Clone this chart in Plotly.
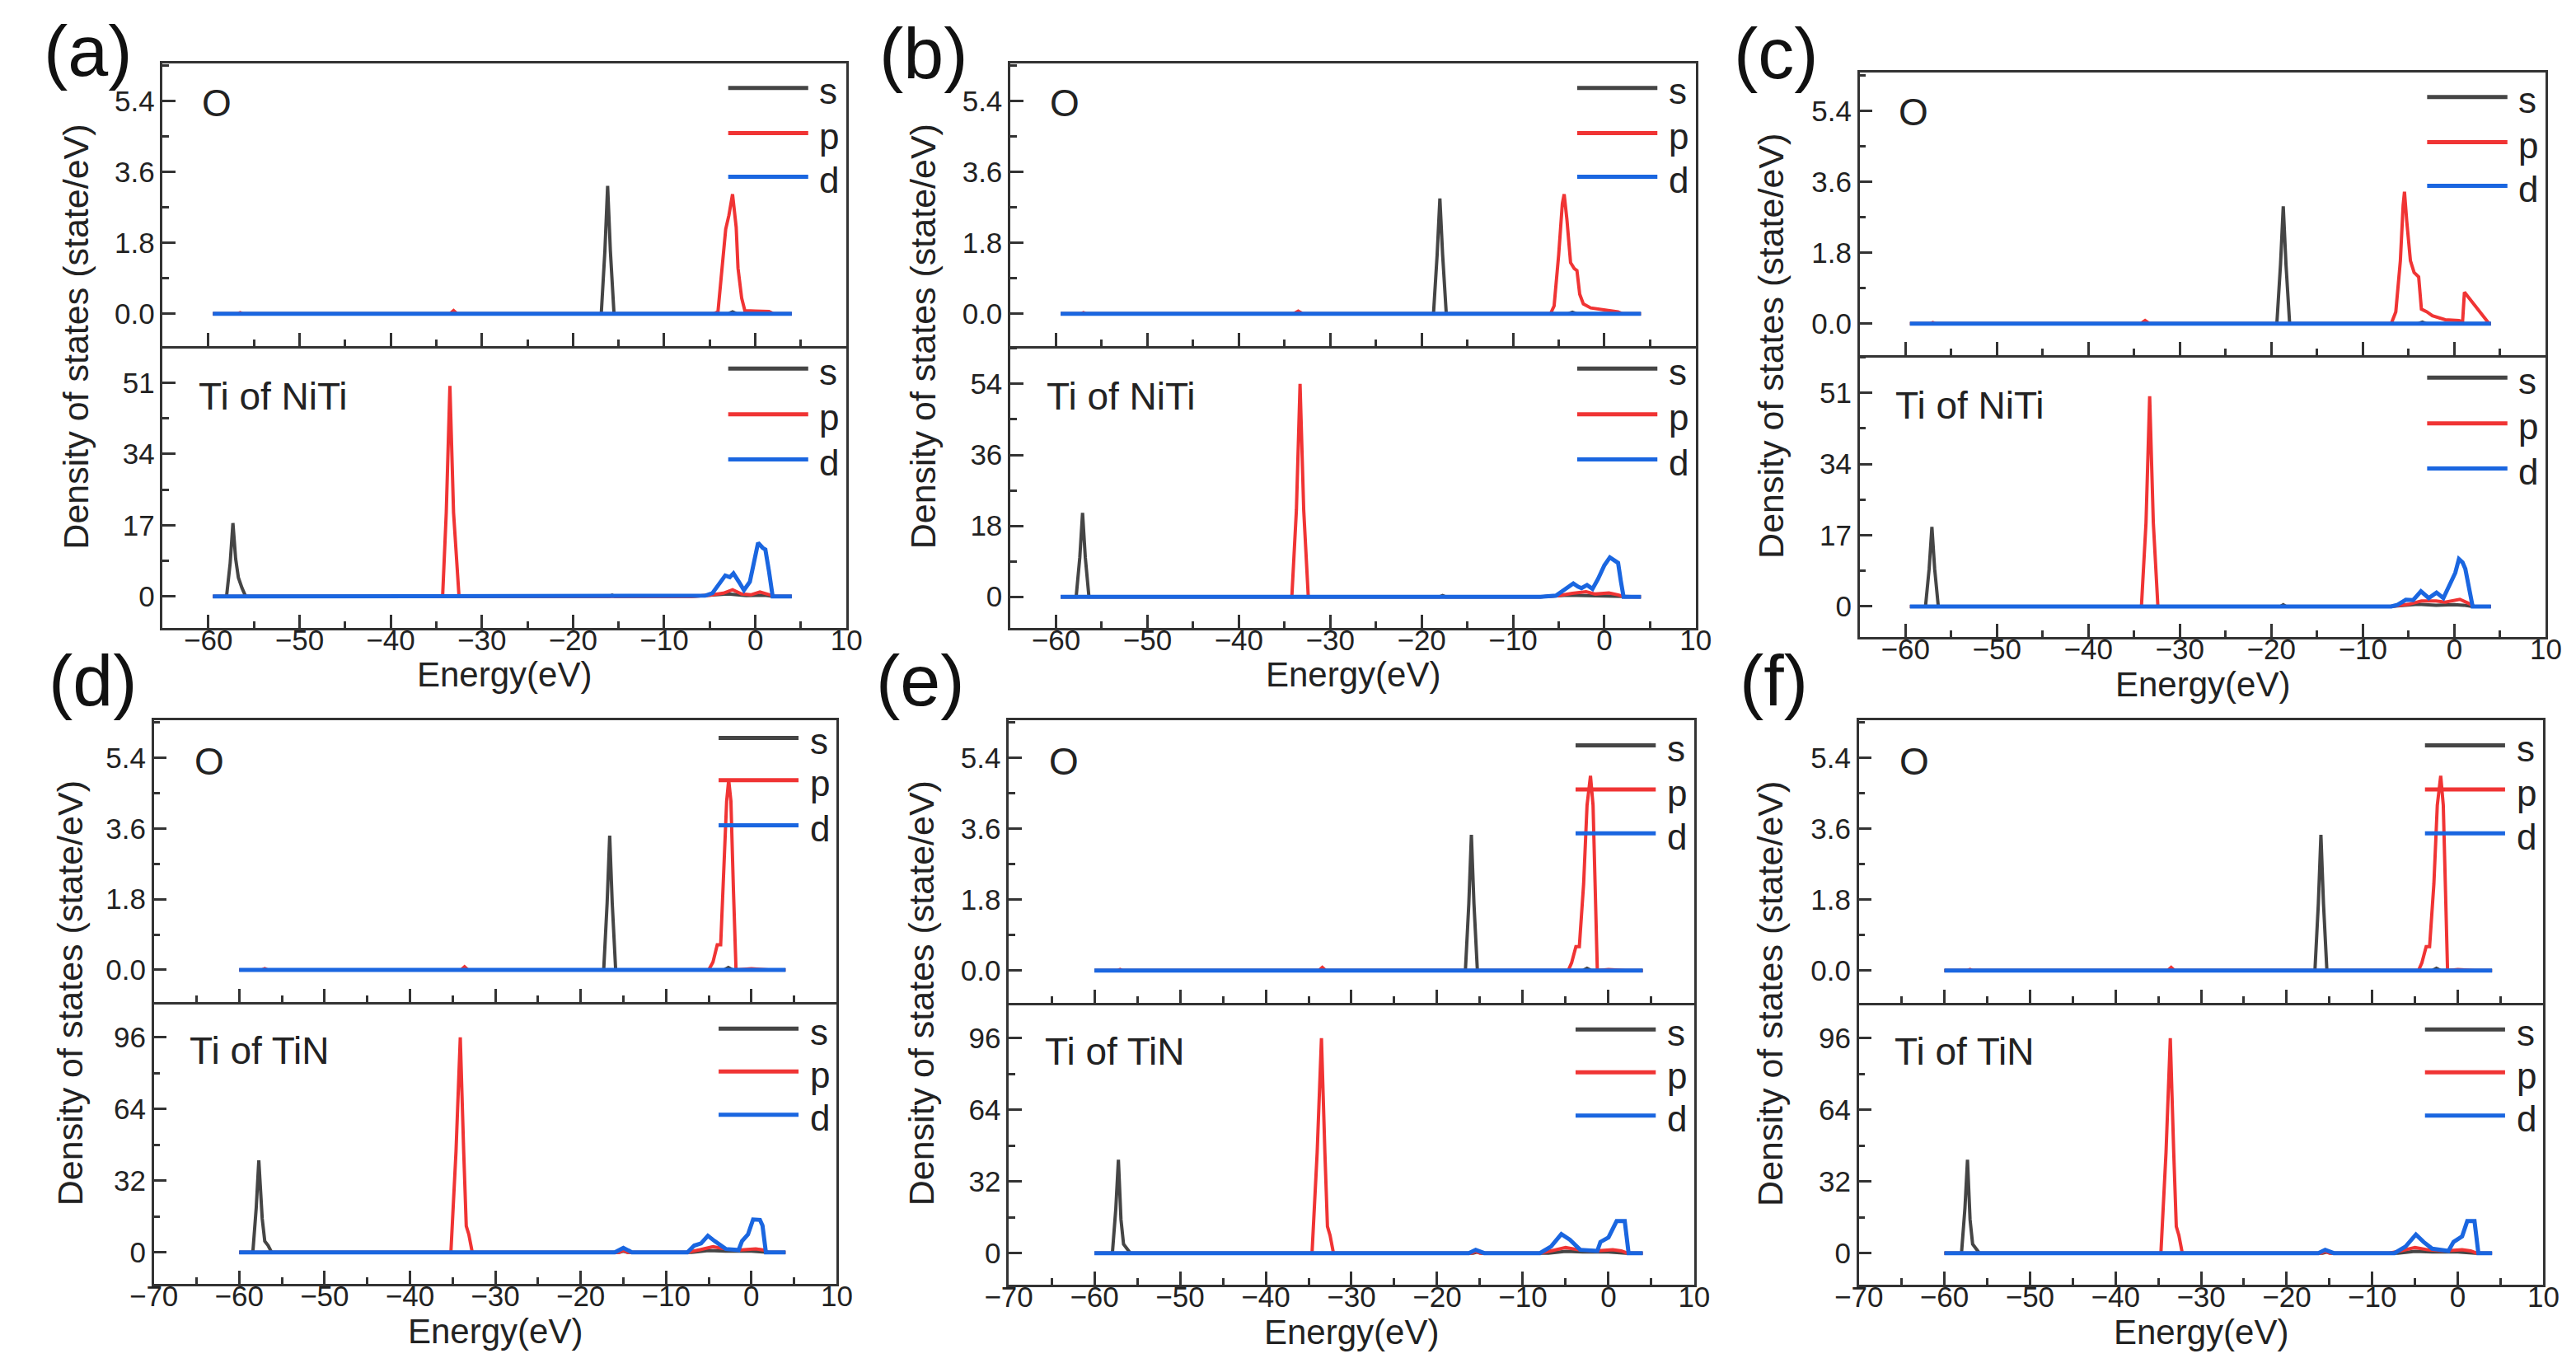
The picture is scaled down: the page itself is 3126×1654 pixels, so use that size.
import plotly.graph_objects as go

# ---- data: (energy eV, DOS) vertices of each curve ----
# (a) O / Ti of NiTi
a_O_s = [(-59.5, 0), (-33.5, 0), (-33, 0.02), (-32.5, 0), (-16.9, 0), (-16.5, 1.6), (-16.2, 3.25),
         (-15.9, 1.6), (-15.5, 0), (-3, 0), (-2.5, 0.05), (-2, 0), (4, 0)]
a_O_p = [(-59.5, 0), (-56.8, 0), (-56.5, 0.03), (-56.2, 0), (-33.5, 0), (-33.1, 0.08), (-32.7, 0),
         (-4.6, 0), (-4.1, 0.05), (-3.6, 1.4), (-3.25, 2.15), (-2.9, 2.5), (-2.5, 3.04), (-2.1, 2.2),
         (-1.9, 1.16), (-1.5, 0.4), (-1.15, 0.08), (0, 0.07), (1.5, 0.06), (2, 0), (4, 0)]
a_O_d = [(-59.5, 0), (4, 0)]
a_Ti_s = [(-59.5, 0), (-58.0, 0), (-57.6, 8), (-57.3, 17.5), (-57.0, 9), (-56.7, 4.5), (-56.3, 2),
          (-55.9, 0), (-16, 0), (-15.7, 0.3), (-15.4, 0), (-7, 0), (-5, 0.3), (-3, 0.6), (-1, 0.2),
          (1, 0.3), (2, 0), (4, 0)]
a_Ti_p = [(-59.5, 0), (-34.3, 0), (-33.9, 20), (-33.5, 50.2), (-33.1, 20), (-32.5, 0), (-7, 0),
          (-5, 0.3), (-3.5, 0.8), (-2.5, 1.6), (-1.5, 0.6), (-0.5, 0.4), (0.5, 1.1), (1.2, 0.6),
          (2.2, 0), (4, 0)]
a_Ti_d = [(-59.5, 0), (-8, 0), (-5.5, 0.2), (-4.7, 0.8), (-4, 3.0), (-3.3, 5.0), (-2.8, 4.6),
          (-2.4, 5.5), (-1.8, 3.5), (-1.25, 1.5), (-0.6, 3.5), (0, 9), (0.3, 12.8), (0.8, 11.6),
          (1.1, 11.2), (1.5, 6), (1.9, 0), (4, 0)]

# (b) O / Ti of NiTi
b_O_s = [(-59.5, 0), (-18.7, 0), (-18.3, 1.5), (-18.0, 2.93), (-17.7, 1.5), (-17.3, 0), (-4, 0),
         (-3.5, 0.04), (-3, 0), (4, 0)]
b_O_p = [(-59.5, 0), (-57.3, 0), (-57, 0.03), (-56.7, 0), (-34, 0), (-33.5, 0.07), (-33, 0),
         (-5.9, 0), (-5.5, 0.2), (-5.0, 1.5), (-4.6, 2.8), (-4.4, 3.04), (-4.1, 2.4), (-3.7, 1.3),
         (-3.3, 1.15), (-3.0, 1.1), (-2.7, 0.5), (-2.3, 0.25), (-1.5, 0.15), (-0.5, 0.12),
         (0.5, 0.08), (1.5, 0.05), (2, 0), (4, 0)]
b_O_d = [(-59.5, 0), (4, 0)]
b_Ti_s = [(-59.5, 0), (-57.8, 0), (-57.4, 10), (-57.1, 21.3), (-56.8, 10), (-56.4, 0), (-18, 0),
          (-17.7, 0.3), (-17.4, 0), (-7, 0), (-4, 0.4), (-2, 0.3), (0, 0.3), (2, 0), (4, 0)]
b_Ti_p = [(-59.5, 0), (-34.2, 0), (-33.7, 22), (-33.3, 54), (-32.9, 22), (-32.4, 0), (-7, 0),
          (-5, 0.3), (-3.5, 0.9), (-2, 1.3), (-1, 0.7), (0.5, 1.0), (1.5, 0.5), (2.2, 0), (4, 0)]
b_Ti_d = [(-59.5, 0), (-7, 0), (-5.3, 0.3), (-4.3, 1.8), (-3.4, 3.4), (-2.9, 2.6), (-2.5, 2.2),
          (-1.9, 3.0), (-1.3, 2.0), (-0.7, 4.5), (0, 8), (0.6, 10.0), (1.2, 9.2), (1.5, 8.6),
          (1.8, 4), (2.1, 0), (4, 0)]

# (c) O / Ti of NiTi
c_O_s = [(-59.5, 0), (-19.4, 0), (-19.0, 1.5), (-18.7, 2.98), (-18.4, 1.5), (-18.0, 0), (-4, 0),
         (-3.5, 0.04), (-3, 0), (4, 0)]
c_O_p = [(-59.5, 0), (-57.3, 0), (-57, 0.03), (-56.7, 0), (-34.3, 0), (-33.8, 0.08), (-33.3, 0),
         (-6.9, 0), (-6.4, 0.3), (-5.9, 1.6), (-5.6, 3.0), (-5.45, 3.35), (-5.2, 2.6), (-4.8, 1.6),
         (-4.4, 1.3), (-3.9, 1.19), (-3.6, 0.37), (-3.0, 0.3), (-2.4, 0.2), (-1, 0.1), (0.5, 0.08),
         (0.9, 0.05), (1.1, 0.8), (3.8, 0), (4, 0)]
c_O_d = [(-59.5, 0), (4, 0)]
c_Ti_s = [(-59.5, 0), (-57.8, 0), (-57.4, 9), (-57.1, 19.0), (-56.8, 9), (-56.4, 0), (-19, 0),
          (-18.7, 0.4), (-18.4, 0), (-7, 0), (-4, 0.5), (-2, 0.3), (0, 0.4), (1, 0.3), (2, 0), (4, 0)]
c_Ti_p = [(-59.5, 0), (-34.2, 0), (-33.7, 20), (-33.3, 50.2), (-32.9, 20), (-32.4, 0), (-7, 0),
          (-5, 0.5), (-3.6, 1.3), (-2, 1.3), (-1, 1.0), (0.6, 1.7), (1.5, 0.8), (2.2, 0), (4, 0)]
c_Ti_d = [(-59.5, 0), (-6.9, 0), (-6.2, 0.4), (-5.3, 1.6), (-4.5, 1.5), (-3.65, 3.6), (-2.8, 2.0),
          (-1.95, 3.3), (-1.2, 2.0), (-0.4, 5.5), (0.1, 8), (0.5, 11.3), (0.9, 10.5), (1.2, 9.0),
          (1.6, 4), (2.0, 0), (4, 0)]

# (d) O / Ti of TiN
d_O_s = [(-60, 0), (-17.3, 0), (-16.9, 1.7), (-16.6, 3.42), (-16.3, 1.7), (-15.9, 0), (-3.2, 0),
         (-2.7, 0.06), (-2.2, 0), (4, 0)]
d_O_p = [(-60, 0), (-57.3, 0), (-57, 0.03), (-56.7, 0), (-34, 0), (-33.6, 0.08), (-33.2, 0),
         (-5, 0), (-4.5, 0.2), (-4.0, 0.64), (-3.6, 0.64), (-3.2, 2.5), (-2.9, 4.3), (-2.66, 4.84),
         (-2.4, 4.3), (-2.1, 2.0), (-1.8, 0), (0, 0.03), (2, 0), (4, 0)]
d_O_d = [(-60, 0), (4, 0)]
d_Ti_s = [(-60, 0), (-58.4, 0), (-58.0, 20), (-57.7, 41.1), (-57.3, 15), (-57.0, 5.0), (-56.6, 3),
          (-56.2, 0), (-15.5, 0), (-15, 0.5), (-14.5, 0), (-7, 0), (-5, 0.8), (-3, 0.5), (0, 0.5),
          (2, 0), (4, 0)]
d_Ti_p = [(-60, 0), (-35.2, 0), (-34.6, 45), (-34.1, 96), (-33.7, 45), (-33.4, 11.7), (-33.1, 8),
          (-32.7, 0), (-15.5, 0), (-15, 0.8), (-14.5, 0), (-7.5, 0), (-6, 1.2), (-4.5, 2.5),
          (-3, 1.5), (-1.5, 1), (0.5, 1.5), (1.5, 1), (2, 0), (4, 0)]
d_Ti_d = [(-60, 0), (-16, 0), (-15, 2.0), (-14, 0), (-7.5, 0), (-6.7, 3.0), (-5.9, 4.0), (-5.1, 7.4),
          (-4.3, 5.0), (-3.5, 2.5), (-3, 1.5), (-2, 1.2), (-1.5, 1.0), (-1.1, 5.0), (-0.4, 8),
          (0.2, 14.7), (1.0, 14.5), (1.3, 12), (1.7, 0), (4, 0)]

# (e) O / Ti of TiN
e_O_s = [(-60, 0), (-16.7, 0), (-16.3, 1.7), (-16.0, 3.45), (-15.7, 1.7), (-15.3, 0), (-3, 0),
         (-2.5, 0.06), (-2, 0), (4, 0)]
e_O_p = [(-60, 0), (-57.3, 0), (-57, 0.03), (-56.7, 0), (-33.8, 0), (-33.4, 0.08), (-33, 0),
         (-4.7, 0), (-4.3, 0.2), (-3.8, 0.61), (-3.4, 0.61), (-2.9, 2.2), (-2.5, 4.2), (-2.1, 4.95),
         (-1.8, 4.2), (-1.5, 1.8), (-1.3, 0), (0, 0.03), (2, 0), (4, 0)]
e_O_d = [(-60, 0), (4, 0)]
e_Ti_s = [(-60, 0), (-57.9, 0), (-57.5, 20), (-57.2, 41.7), (-56.9, 15), (-56.6, 4.0), (-56.2, 2),
          (-55.8, 0), (-15.8, 0), (-15.3, 0.5), (-14.8, 0), (-7, 0), (-5, 0.8), (-3, 0.5), (0, 0.5),
          (2, 0), (4, 0)]
e_Ti_p = [(-60, 0), (-34.6, 0), (-34.0, 45), (-33.5, 96), (-33.1, 45), (-32.8, 11.9), (-32.5, 8),
          (-32.1, 0), (-16, 0), (-15.5, 0.8), (-15, 0), (-8, 0), (-6.5, 1.2), (-5, 2.5), (-3.5, 1.5),
          (-1.5, 1), (0.5, 1.5), (1.5, 1), (2.2, 0), (4, 0)]
e_Ti_d = [(-60, 0), (-16.3, 0), (-15.5, 1.5), (-14.5, 0), (-8, 0), (-6.7, 3.0), (-5.5, 8.5),
          (-4.5, 6.0), (-3.3, 1.5), (-2, 1.0), (-1.3, 1.0), (-0.94, 5.0), (0, 7.0), (0.95, 14.3),
          (1.9, 14.3), (2.35, 0), (4, 0)]

# (f) O / Ti of TiN
f_O_s = [(-60, 0), (-16.7, 0), (-16.3, 1.7), (-16.0, 3.45), (-15.7, 1.7), (-15.3, 0), (-3, 0),
         (-2.5, 0.06), (-2, 0), (4, 0)]
f_O_p = [(-60, 0), (-57.3, 0), (-57, 0.03), (-56.7, 0), (-33.9, 0), (-33.5, 0.08), (-33.1, 0),
         (-4.6, 0), (-4.2, 0.2), (-3.7, 0.61), (-3.3, 0.61), (-2.8, 2.2), (-2.4, 4.2), (-2.0, 4.95),
         (-1.7, 4.2), (-1.4, 1.8), (-1.2, 0), (0, 0.03), (2, 0), (4, 0)]
f_O_d = [(-60, 0), (4, 0)]
f_Ti_s = [(-60, 0), (-58.0, 0), (-57.6, 20), (-57.3, 41.7), (-57.0, 15), (-56.7, 4.0), (-56.3, 2),
          (-55.9, 0), (-15.8, 0), (-15.3, 0.5), (-14.8, 0), (-7, 0), (-5, 0.8), (-3, 0.5), (0, 0.5),
          (2, 0), (4, 0)]
f_Ti_p = [(-60, 0), (-34.7, 0), (-34.1, 45), (-33.6, 96), (-33.2, 45), (-32.9, 11.9), (-32.6, 8),
          (-32.2, 0), (-16, 0), (-15.5, 0.8), (-15, 0), (-8, 0), (-6.5, 1.2), (-5, 2.5), (-3.5, 1.5),
          (-1.5, 1), (0.5, 1.5), (1.5, 1), (2.2, 0), (4, 0)]
f_Ti_d = [(-60, 0), (-16.3, 0), (-15.5, 1.5), (-14.5, 0), (-7.4, 0), (-6.1, 3.0), (-4.9, 8.3),
          (-4.0, 5.0), (-3.0, 2.0), (-1.1, 1.0), (-0.5, 5.0), (0.5, 7.5), (1.1, 14.3), (1.95, 14.3),
          (2.4, 0), (4, 0)]

orbitals = ["s", "p", "d"]
panel_letters = ["(a)", "(b)", "(c)", "(d)", "(e)", "(f)"]
upper_labels = ["O", "O", "O", "O", "O", "O"]
lower_labels = ["Ti of NiTi", "Ti of NiTi", "Ti of NiTi", "Ti of TiN", "Ti of TiN", "Ti of TiN"]
upper_data = [(a_O_s, a_O_p, a_O_d), (b_O_s, b_O_p, b_O_d), (c_O_s, c_O_p, c_O_d),
              (d_O_s, d_O_p, d_O_d), (e_O_s, e_O_p, e_O_d), (f_O_s, f_O_p, f_O_d)]
lower_data = [(a_Ti_s, a_Ti_p, a_Ti_d), (b_Ti_s, b_Ti_p, b_Ti_d), (c_Ti_s, c_Ti_p, c_Ti_d),
              (d_Ti_s, d_Ti_p, d_Ti_d), (e_Ti_s, e_Ti_p, e_Ti_d), (f_Ti_s, f_Ti_p, f_Ti_d)]
upper_ytick = [1.8] * 6
lower_ytick = [17, 18, 17, 32, 32, 32]

# ---- layout (pixels of the 3126x1654 page) ----
W, H = 3126, 1654
FONT = "Liberation Sans, Arial, sans-serif"
AX = "#333333"
TXT = "#222222"
colors = {"s": "#454545", "p": "#f03434", "d": "#1a66e0"}
widths = {"s": 4, "p": 4, "d": 5}

# x0, x1, top, middle, bottom of each panel box
boxes = [(162, 1005, 69, 412, 754), (1207, 2052, 69, 412, 754), (2254, 3100, 80, 423, 765),
         (151, 993, 866, 1208, 1550), (1205, 2050, 866, 1209, 1551), (2253, 3097, 866, 1209, 1551)]
xranges = [[-65, 10]] * 3 + [[-70, 10]] * 3
upper_yr = [[-0.82, 6.36], [-0.82, 6.36], [-0.8, 6.38], [-0.82, 6.36], [-0.82, 6.36], [-0.82, 6.36]]
lower_yr = [[-7.5, 59.7], [-7.9, 63.6], [-7.3, 60.0], [-14.1, 111.8], [-14.1, 111.8], [-14.1, 111.8]]
letter_pos = [(70, 54), (1100, 56), (2151, 56), (76, 817), (1096, 817), (2148, 817)]
# legend rows (fraction from top of sub-panel)
leg_upper = [(0.087, 0.246, 0.401)] * 3 + [(0.063, 0.213, 0.373), (0.089, 0.245, 0.40), (0.089, 0.245, 0.40)]
leg_lower = [(0.08, 0.242, 0.402)] * 3 + [(0.094, 0.246, 0.40)] * 3
ytitle_dx = [108, 108, 110, 103, 108, 110]


def fx(p):
    return p / W


def fy(p):
    return 1 - p / H


fig = go.Figure()
layout = dict(width=W, height=H, margin=dict(l=0, r=0, t=0, b=0),
              paper_bgcolor="white", plot_bgcolor="white", showlegend=False,
              font=dict(family=FONT, color=TXT))
shapes = []
annotations = []
tickfont = dict(size=35, family=FONT, color=TXT)

for i in range(6):
    x0, x1, top, mid, bot = boxes[i]
    for k, (data, yr, dt, lab, leg) in enumerate([
            (upper_data[i], upper_yr[i], upper_ytick[i], upper_labels[i], leg_upper[i]),
            (lower_data[i], lower_yr[i], lower_ytick[i], lower_labels[i], leg_lower[i])]):
        n = 2 * i + k + 1
        key = "" if n == 1 else str(n)
        xa, ya = "x" + key, "y" + key
        ydom = [fy(mid), fy(top)] if k == 0 else [fy(bot), fy(mid)]
        for orb, pts in zip(orbitals, data):
            fig.add_trace(go.Scatter(
                x=[p[0] for p in pts], y=[p[1] for p in pts], mode="lines",
                line=dict(color=colors[orb], width=widths[orb]),
                xaxis=xa, yaxis=ya, name=orb, hoverinfo="x+y+name"))
        layout["xaxis" + key] = dict(
            domain=[fx(x0), fx(x1)], range=xranges[i], anchor=ya,
            showline=True, mirror=(k == 0), linecolor=AX, linewidth=2.5,
            showgrid=False, zeroline=False,
            ticks="inside", ticklen=16, tickwidth=2.5, tickcolor=AX, dtick=10, tick0=0,
            minor=dict(ticks="inside", ticklen=8, tickwidth=2.5, tickcolor=AX, dtick=5, tick0=0),
            showticklabels=(k == 1), ticklabelstandoff=-18, tickfont=tickfont)
        layout["yaxis" + key] = dict(
            domain=ydom, range=yr, anchor=xa,
            showline=True, mirror=True, linecolor=AX, linewidth=2.5,
            showgrid=False, zeroline=False,
            ticks="inside", ticklen=16, tickwidth=2.5, tickcolor=AX, dtick=dt, tick0=0,
            tickformat=".1f" if k == 0 else "d", ticklabelstandoff=0,
            minor=dict(ticks="inside", ticklen=8, tickwidth=2.5, tickcolor=AX, dtick=dt / 2, tick0=0),
            tickfont=tickfont)
        # legend samples
        for orb, yf in zip(orbitals, leg):
            shapes.append(dict(type="line", xref=xa + " domain", yref=ya + " domain",
                               x0=0.827, x1=0.944, y0=1 - yf, y1=1 - yf,
                               line=dict(color=colors[orb], width=5)))
            annotations.append(dict(text=orb, xref=xa + " domain", yref=ya + " domain",
                                    x=0.958, y=1 - yf, xanchor="left", yanchor="middle",
                                    yshift=-4, showarrow=False,
                                    font=dict(size=44, family=FONT, color=TXT)))
        # element label
        if k == 0:
            lx, ly = (0.079, 0.14) if i < 3 else (0.081, 0.145)
            annotations.append(dict(text=lab, xref=xa + " domain", yref=ya + " domain",
                                    x=lx, y=1 - ly, xanchor="center", yanchor="middle",
                                    showarrow=False, font=dict(size=46, family=FONT, color=TXT)))
        else:
            ly = 0.178 if i < 3 else 0.173
            annotations.append(dict(text=lab, xref=xa + " domain", yref=ya + " domain",
                                    x=0.05, y=1 - ly, xanchor="left", yanchor="middle",
                                    showarrow=False, font=dict(size=46, family=FONT, color=TXT)))
    # x title
    annotations.append(dict(text="Energy(eV)", xref="paper", yref="paper",
                            x=fx((x0 + x1) / 2), y=fy(bot + 57), xanchor="center", yanchor="middle",
                            showarrow=False, font=dict(size=42, family=FONT, color=TXT)))
    # y title
    annotations.append(dict(text="Density of states (state/eV)", xref="paper", yref="paper",
                            x=fx(x0 - ytitle_dx[i]), y=fy((top + bot) / 2 - 11), textangle=-90,
                            xanchor="center", yanchor="middle", showarrow=False,
                            font=dict(size=43, family=FONT, color=TXT)))
    # panel letter
    px_, py_ = letter_pos[i]
    annotations.append(dict(text=panel_letters[i], xref="paper", yref="paper",
                            x=fx(px_), y=fy(py_), xanchor="center", yanchor="middle",
                            showarrow=False, font=dict(size=88, family=FONT, color="#111111")))

layout["shapes"] = shapes
layout["annotations"] = annotations
fig.update_layout(**layout)
fig.write_html("out.html")
